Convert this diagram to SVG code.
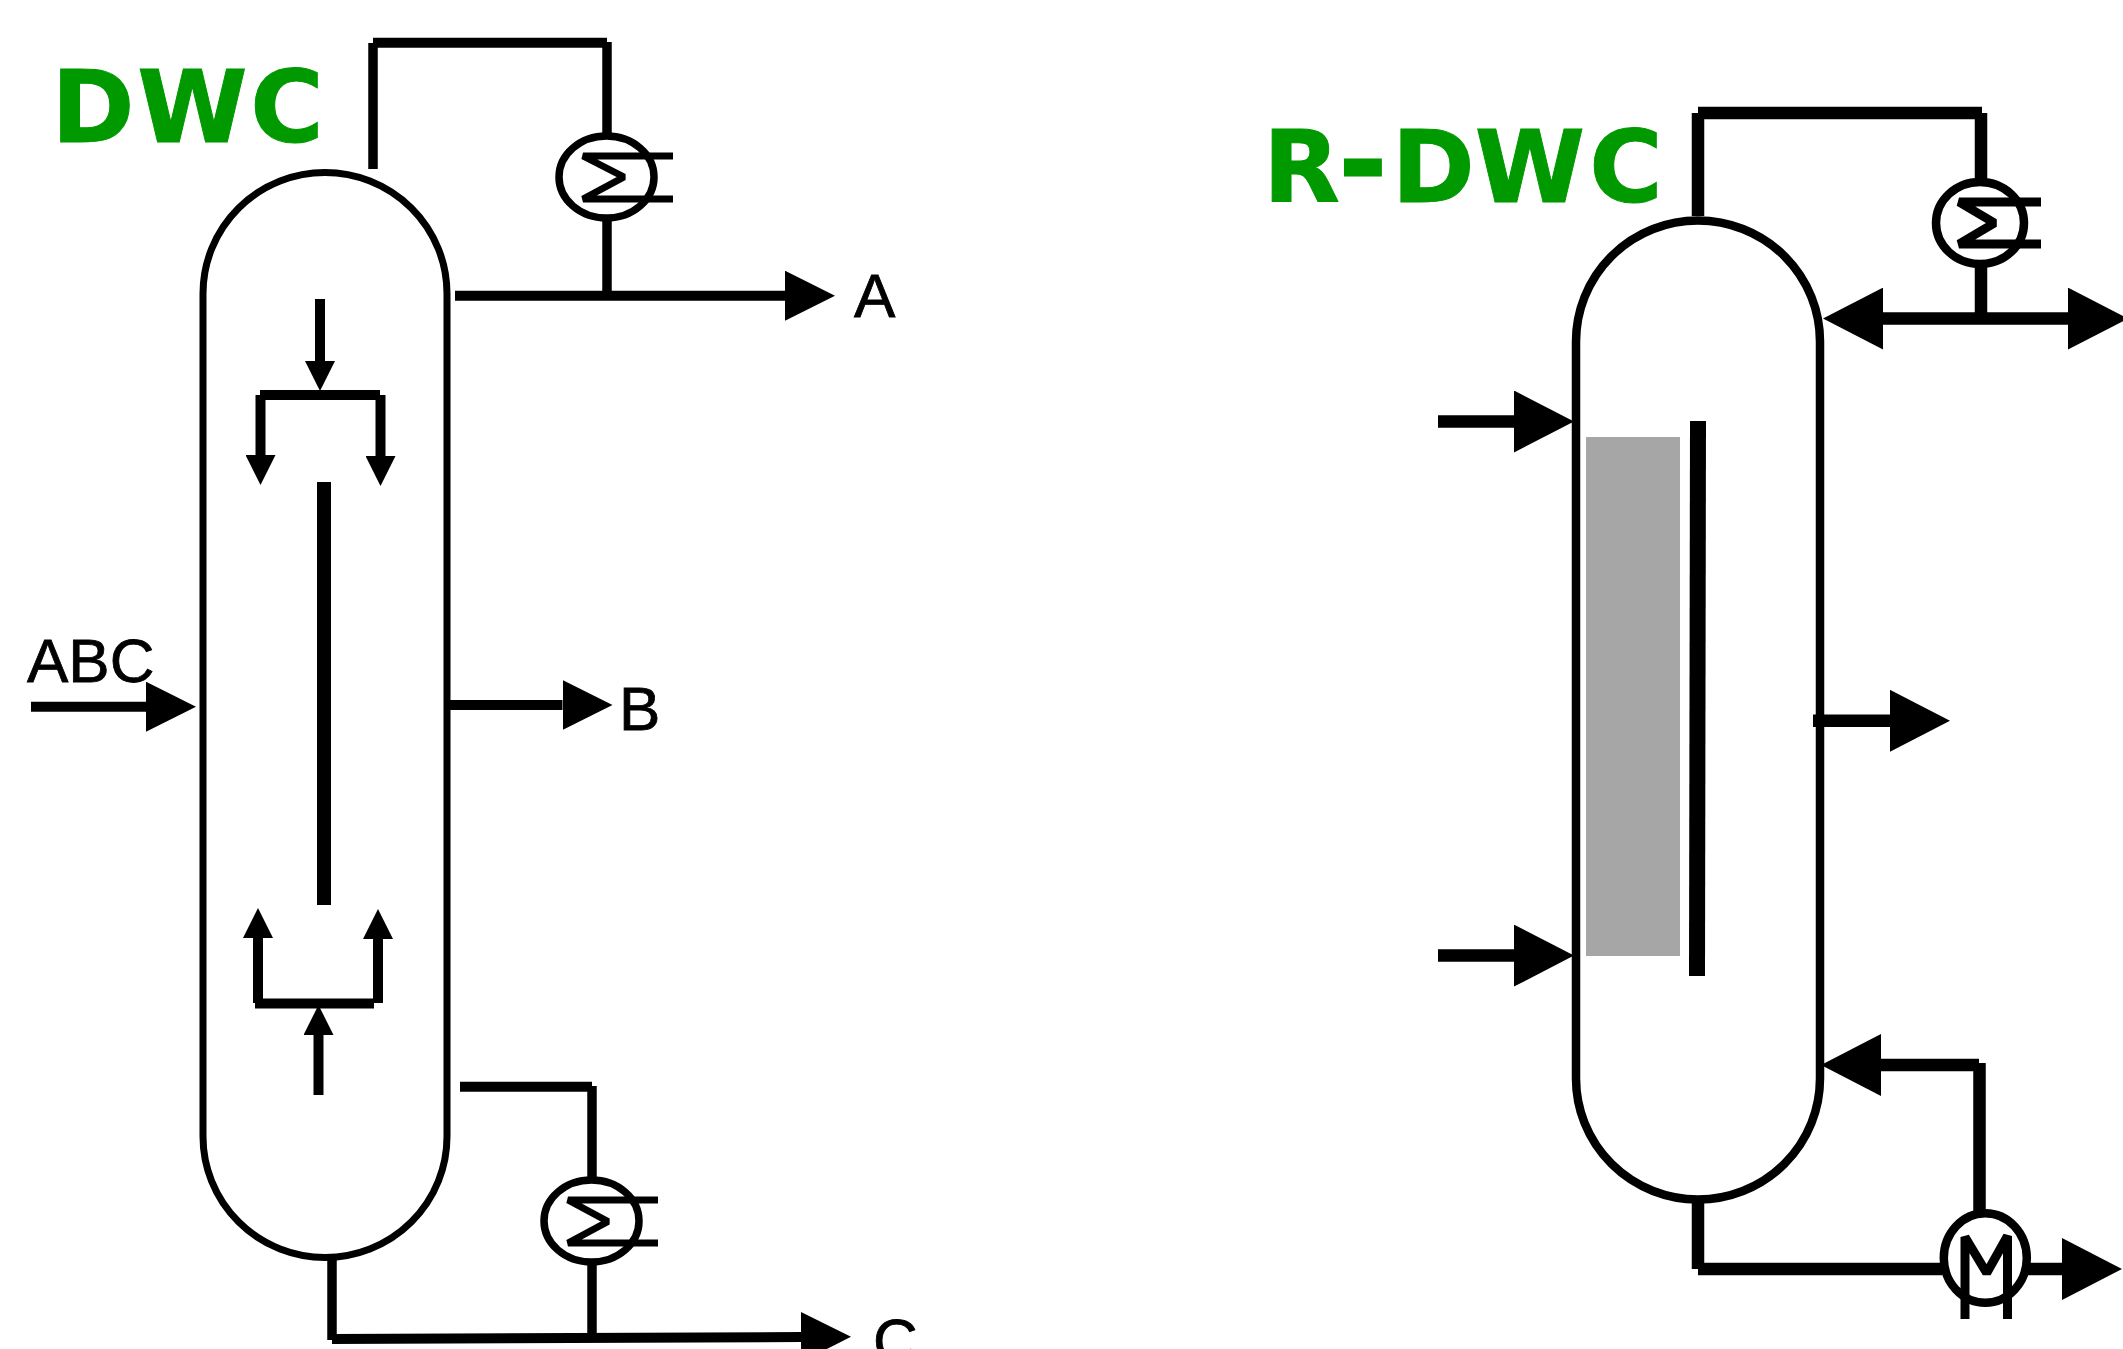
<svg xmlns="http://www.w3.org/2000/svg" width="2123" height="1349" viewBox="0 0 2123 1349">
<style>
.vessel{fill:#fff;stroke:#000;stroke-width:7}
.vessel.r{stroke-width:8.500}
.hx{fill:#fff;stroke:#000;stroke-width:7.500}
.hx.r{stroke-width:8.500}
.pipe{fill:none;stroke:#000;stroke-width:10}
.pipe.n{stroke-width:9.500}
.pipe.w{stroke-width:12.500}
.coil{fill:none;stroke:#000;stroke-width:7;stroke-linejoin:bevel}
.coil.r{stroke-width:9}
.wall{fill:none;stroke:#000;stroke-width:14}
.wall.r{stroke-width:16}
.packing{fill:#a6a6a6;stroke:none}
.head-l{marker-end:url(#hL)}
.head-s{marker-end:url(#hS)}
.head-r{marker-end:url(#hR)}
.lbl{font-family:"Liberation Sans",Arial,sans-serif;font-size:62px;fill:#000;stroke:#000;stroke-width:.8}
.title{font-family:"DejaVu Sans",Verdana,sans-serif;font-size:100px;font-weight:700;fill:#009900;stroke:#009900;stroke-width:1}
.dash{font-size:120px}
</style>
<defs>
<marker id="hL" markerUnits="userSpaceOnUse" viewBox="0 -25 50 50" refX="0" refY="0" markerWidth="50" markerHeight="50" orient="auto"><path d="M0-25 50 0 0 25Z"/></marker>
<marker id="hS" markerUnits="userSpaceOnUse" viewBox="0 -15 30 30" refX="0" refY="0" markerWidth="30" markerHeight="30" orient="auto"><path d="M0-15 30 0 0 15Z"/></marker>
<marker id="hR" markerUnits="userSpaceOnUse" viewBox="0 -31 60 62" refX="0" refY="0" markerWidth="60" markerHeight="62" orient="auto"><path d="M0-31 60 0 0 31Z"/></marker>
</defs>

<g id="column-dwc"><rect class="vessel" x="203" y="172.500" width="244" height="1085" rx="122" ry="121"/></g>
<g id="wall-dwc"><path class="wall" d="M324 482V905"/></g>
<g id="column-rdwc">
<rect class="vessel r" x="1576" y="220.500" width="244" height="979" rx="122" ry="121"/>
<rect class="packing" x="1586" y="437" width="94" height="519"/>
</g>
<g id="wall-rdwc"><path class="wall r" d="M1698 421 1697 976"/></g>

<g id="connectors">
<path class="pipe n" d="M373 169V43"/>
<path class="pipe" d="M373 42.700H607"/>
<path class="pipe n" d="M607 42V134"/>
<path class="pipe n" d="M607 220V296"/>
<path class="pipe head-l" d="M455 295.700H785"/>
<path class="pipe head-s" d="M320 299V361"/>
<path class="pipe" d="M260 395H380"/>
<path class="pipe head-s" d="M260.500 395V455"/>
<path class="pipe head-s" d="M380.500 395V456"/>
<path class="pipe head-s" d="M258 1003V938"/>
<path class="pipe head-s" d="M378 1003V939"/>
<path class="pipe" d="M255 1003.500H374"/>
<path class="pipe head-s" d="M318.500 1095V1035"/>
<path class="pipe" d="M460 1086.700H592"/>
<path class="pipe n" d="M592 1086V1178"/>
<path class="pipe n" d="M592 1265V1337"/>
<path class="pipe n" d="M332 1257V1340"/>
<path class="pipe head-l" d="M332 1339 801 1337"/>
<path class="pipe head-l" d="M31 706.700H146"/>
<path class="pipe head-l" d="M447 705H562.500"/>

<path class="pipe w" d="M1698 216V113"/>
<path class="pipe w" d="M1698 113H1982"/>
<path class="pipe w" d="M1981 113V180"/>
<path class="pipe w" d="M1981 266V319"/>
<path class="pipe w head-r" d="M1981 318.600H1883"/>
<path class="pipe w head-r" d="M1981 318.600H2068"/>
<path class="pipe w head-r" d="M1438 421.500H1514"/>
<path class="pipe w head-r" d="M1438 955.600H1514"/>
<path class="pipe w head-r" d="M1813 720.800H1890"/>
<path class="pipe w head-r" d="M1979 1065H1881"/>
<path class="pipe w" d="M1979.500 1063V1212"/>
<path class="pipe w" d="M1698 1203V1269"/>
<path class="pipe w" d="M1698 1269H1942"/>
<path class="pipe w head-r" d="M2028 1269H2062"/>
</g>

<g id="condenser-a">
<ellipse class="hx" cx="606.500" cy="177" rx="47.500" ry="41"/>
<path class="coil" d="M673 156H583L624 177 583 199H673"/>
</g>
<g id="reboiler-c">
<ellipse class="hx" cx="591.500" cy="1221" rx="47.500" ry="41"/>
<path class="coil" d="M658 1200H568L608 1221.500 568 1243H658"/>
</g>
<g id="condenser-r">
<ellipse class="hx r" cx="1980" cy="223" rx="44" ry="41"/>
<path class="coil r" d="M2041 202H1959L1994.500 223 1959 244H2041"/>
</g>
<g id="pump">
<ellipse class="hx r" cx="1985.300" cy="1258" rx="41.500" ry="44.700"/>
<path class="coil r" d="M1965 1319V1237L1986.700 1273 2007.500 1236V1319"/>
</g>

<g id="labels">
<text class="title" x="51.500" y="141.700" letter-spacing="2.700">DWC</text>
<text class="title" x="1263" y="202.300">R<tspan class="dash" dx="-2">-</tspan><tspan dx="4">DW</tspan><tspan dx="4">C</tspan></text>
<text class="lbl" x="854" y="317">A</text>
<text class="lbl" x="27" y="682">ABC</text>
<text class="lbl" x="619" y="730">B</text>
<text class="lbl" x="873" y="1362">C</text>
</g>
</svg>
